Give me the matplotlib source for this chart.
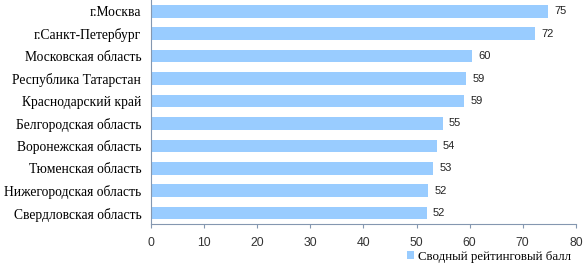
import matplotlib
matplotlib.use('Agg')
from matplotlib import pyplot as plt

regions = ['г.Москва', 'г.Санкт-Петербург', 'Московская область', 'Республика Татарстан',
           'Краснодарский край', 'Белгородская область', 'Воронежская область',
           'Тюменская область', 'Нижегородская область', 'Свердловская область']
scores = [74.7, 72.3, 60.4, 59.3, 58.9, 54.9, 53.8, 53.1, 52.2, 51.9]
labels = ['75', '72', '60', '59', '59', '55', '54', '53', '52', '52']
xticks = [0, 10, 20, 30, 40, 50, 60, 70, 80]

bar_color = '#99CCFF'
axis_color = '#8497B0'

fig = plt.figure(figsize=(5.84, 2.73), dpi=100)
ax = fig.add_axes([0.2586, 0.178, 0.7274, 0.822])

ypos = list(range(len(regions)))
ax.barh(ypos, scores, height=0.56, color=bar_color, label='Сводный рейтинговый балл')
ax.set_ylim(len(regions) - 0.5, -0.5)
ax.set_xlim(0, 80)

for y, v, t in zip(ypos, scores, labels):
    ax.text(v + 1.2, y, t, va='center', ha='left', fontsize=8, family='Liberation Sans',
            color='#222222')

ax.set_yticks(ypos)
ax.set_yticklabels(regions, family='Liberation Serif', fontsize=9.8)
ax.set_xticks(xticks)
ax.set_xticklabels([str(x) for x in xticks], family='Liberation Sans', fontsize=8.8,
                   color='#333333')

for s in ['top', 'right']:
    ax.spines[s].set_visible(False)
ax.spines['left'].set_color(axis_color)
ax.spines['bottom'].set_color(axis_color)
ax.tick_params(axis='y', length=0, pad=7)
ax.tick_params(axis='x', direction='out', length=3, color=axis_color, pad=6)

leg = fig.legend(loc='lower right', bbox_to_anchor=(0.997, -0.005), frameon=False,
                 prop={'family': 'Liberation Serif', 'size': 9.3},
                 handlelength=0.55, handleheight=0.55, handletextpad=0.3)

fig.savefig('out.png', dpi=100)
